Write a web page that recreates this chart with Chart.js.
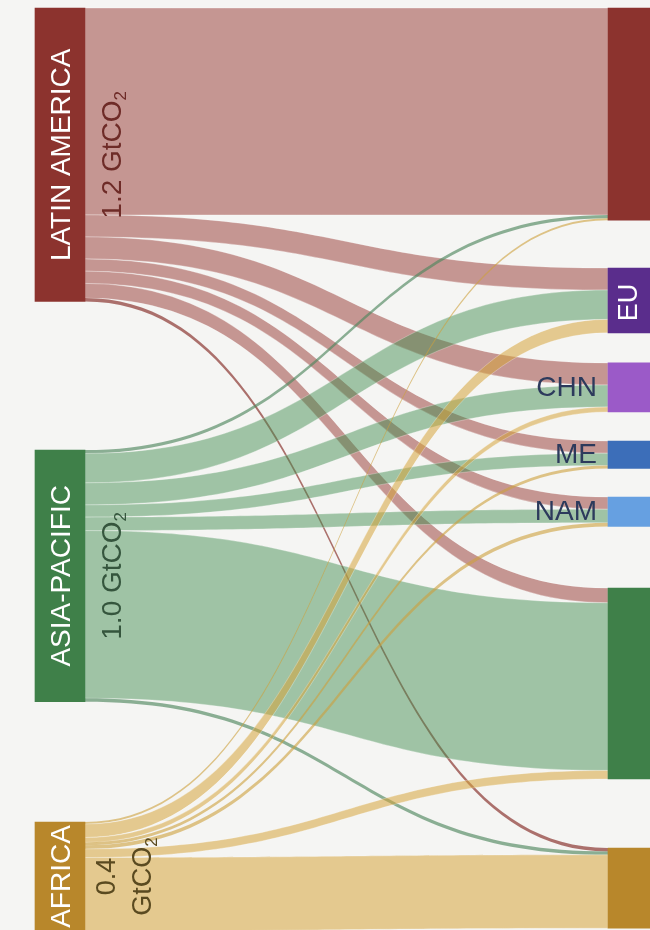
<!DOCTYPE html>
<html>
<head>
<meta charset="utf-8">
<script src="https://cdn.jsdelivr.net/npm/chart.js@4.4.1/dist/chart.umd.min.js"></script>
<style>
  html, body { margin: 0; padding: 0; background: #f5f5f3; }
  #wrap { width: 650px; height: 930px; position: relative; }
</style>
</head>
<body>
<div id="wrap"><canvas id="myChart"></canvas></div>
<script>
const sources = ["LATIN AMERICA", "ASIA-PACIFIC", "AFRICA"];
const sourceTotals = ["1.2", "1.0", "0.4"];
const targets = ["LAM", "EU", "CHN", "ME", "NAM", "APAC", "AFR"];
const targetLabels = ["", "EU", "CHN", "ME", "NAM", "", ""];

// MtCO2 leaving each source region, in the order of targets
const fromLatinAmerica = [845, 90, 90, 50, 50, 60, 14];
const fromAsiaPacific = [14, 120, 90, 50, 55, 685, 14];
const fromAfrica = [8, 55, 20, 12, 15, 35, 300];
const flows = [fromLatinAmerica, fromAsiaPacific, fromAfrica];

// layout, in axis units (x: 0-650, y: MtCO2 stacked down the page)
const layout = {
  leftX: 60,
  rightX: 633,
  nodeWidth: 50,
  leftTops: [33, 1839, 3359],
  rightTops: [33, 1095, 1483, 1802, 2031, 2403, 3465],
  valueOffset: 52,
};

const sourceColors = ["#8c332e", "#3f8049", "#b8872b"];
const linkColors = ["rgba(150,55,50,0.5)", "rgba(65,140,80,0.48)", "rgba(214,164,60,0.55)"];
const thinColors = ["rgba(140,55,50,0.7)", "rgba(80,135,95,0.65)", "rgba(205,160,60,0.6)"];
const valueColors = ["#6e2b27", "#35553d", "#5a4a20"];
const targetColors = ["#8c332e", "#5a2d8c", "#9b5ac8", "#3c6eb9", "#66a0e1", "#3f8049", "#b8872b"];

const FONT = '"Liberation Sans", Arial, sans-serif';

const sourceSum = flows.map((row) => row.reduce((a, b) => a + b, 0));
const targetSum = targets.map((t, j) => flows.reduce((a, row) => a + row[j], 0));

const nodeData = [];
sources.forEach((s, i) => {
  nodeData.push({ x: layout.leftX, y: [layout.leftTops[i], layout.leftTops[i] + sourceSum[i]] });
});
targets.forEach((t, j) => {
  nodeData.push({ x: layout.rightX, y: [layout.rightTops[j], layout.rightTops[j] + targetSum[j]] });
});

const linkPlugin = {
  id: "links",
  beforeDatasetsDraw(chart) {
    const { ctx } = chart;
    const xs = chart.scales.x;
    const ys = chart.scales.y;
    const half = layout.nodeWidth / 2;
    const x0 = xs.getPixelForValue(layout.leftX) + half;
    const x1 = xs.getPixelForValue(layout.rightX) - half;
    const xm = (x0 + x1) / 2;

    // where each link lands on its target, sources stacked in order
    const landing = flows.map(() => []);
    targets.forEach((t, j) => {
      let acc = layout.rightTops[j];
      flows.forEach((row, i) => {
        landing[i][j] = acc;
        acc += row[j];
      });
    });

    ctx.save();
    flows.forEach((row, i) => {
      let acc = layout.leftTops[i];
      row.forEach((v, j) => {
        const a0 = ys.getPixelForValue(acc);
        const a1 = ys.getPixelForValue(acc + v);
        const b0 = ys.getPixelForValue(landing[i][j]);
        const b1 = ys.getPixelForValue(landing[i][j] + v);
        acc += v;
        ctx.beginPath();
        ctx.moveTo(x0, a0);
        ctx.bezierCurveTo(xm, a0, xm, b0, x1, b0);
        ctx.lineTo(x1, b1);
        ctx.bezierCurveTo(xm, b1, xm, a1, x0, a1);
        ctx.closePath();
        ctx.fillStyle = v < 20 ? thinColors[i] : linkColors[i];
        ctx.fill();
        if (v >= 20) {
          ctx.strokeStyle = "rgba(255,255,255,0.35)";
          ctx.lineWidth = 0.8;
          ctx.stroke();
        }
      });
    });
    ctx.restore();
  },
};

function upText(ctx, parts, cx, cy, color) {
  // parts: [text, size, shift] drawn along one rotated line
  ctx.save();
  ctx.translate(cx, cy);
  ctx.rotate(-Math.PI / 2);
  ctx.fillStyle = color;
  ctx.textBaseline = "middle";
  ctx.textAlign = "left";
  let w = 0;
  parts.forEach((p) => {
    ctx.font = p[1] + "px " + FONT;
    w += ctx.measureText(p[0]).width;
  });
  let pos = -w / 2;
  parts.forEach((p) => {
    ctx.font = p[1] + "px " + FONT;
    ctx.fillText(p[0], pos, p[2]);
    pos += ctx.measureText(p[0]).width;
  });
  ctx.restore();
}

const labelPlugin = {
  id: "labels",
  afterDatasetsDraw(chart) {
    const { ctx } = chart;
    const xs = chart.scales.x;
    const ys = chart.scales.y;
    const lx = xs.getPixelForValue(layout.leftX);
    const rx = xs.getPixelForValue(layout.rightX);
    const vx = xs.getPixelForValue(layout.leftX + layout.valueOffset);

    sources.forEach((s, i) => {
      const top = ys.getPixelForValue(layout.leftTops[i]);
      const bot = ys.getPixelForValue(layout.leftTops[i] + sourceSum[i]);
      const cy = (top + bot) / 2;
      upText(ctx, [[s, 28, 1]], lx + 1, cy, "#ffffff");
      if (i < 2) {
        upText(ctx, [[sourceTotals[i] + " GtCO", 28, 0], ["2", 17, 8]], vx + 1, cy, valueColors[i]);
      } else {
        upText(ctx, [[sourceTotals[i], 27, 0]], vx - 4, cy, valueColors[i]);
        upText(ctx, [["GtCO", 27, 0], ["2", 17, 8]], vx + 32, cy, valueColors[i]);
      }
    });

    targets.forEach((t, j) => {
      const label = targetLabels[j];
      if (!label) return;
      const top = ys.getPixelForValue(layout.rightTops[j]);
      const bot = ys.getPixelForValue(layout.rightTops[j] + targetSum[j]);
      const cy = (top + bot) / 2;
      if (label === "EU") {
        upText(ctx, [[label, 27, 0]], rx - 3, cy + 2, "#ffffff");
      } else {
        ctx.save();
        ctx.font = "28px " + FONT;
        ctx.fillStyle = "#2c3a5c";
        ctx.textAlign = "right";
        ctx.textBaseline = "middle";
        ctx.fillText(label, rx - layout.nodeWidth / 2 - 11, cy + 1);
        ctx.restore();
      }
    });
  },
};

const ctx = document.getElementById("myChart").getContext("2d");
const mainChart = new Chart(ctx, {
  type: "bar",
  data: {
    datasets: [
      {
        label: "regions",
        data: nodeData,
        backgroundColor: sourceColors.concat(targetColors),
        barThickness: layout.nodeWidth,
        borderWidth: 0,
      },
    ],
  },
  options: {
    responsive: true,
    maintainAspectRatio: false,
    animation: false,
    events: [],
    layout: { padding: 0 },
    plugins: { legend: { display: false }, tooltip: { enabled: false } },
    scales: {
      x: { type: "linear", min: 0, max: 650, display: false, offset: false },
      y: { type: "linear", min: 0, max: 3800, reverse: true, display: false },
    },
  },
  plugins: [linkPlugin, labelPlugin],
});
</script>
</body>
</html>
